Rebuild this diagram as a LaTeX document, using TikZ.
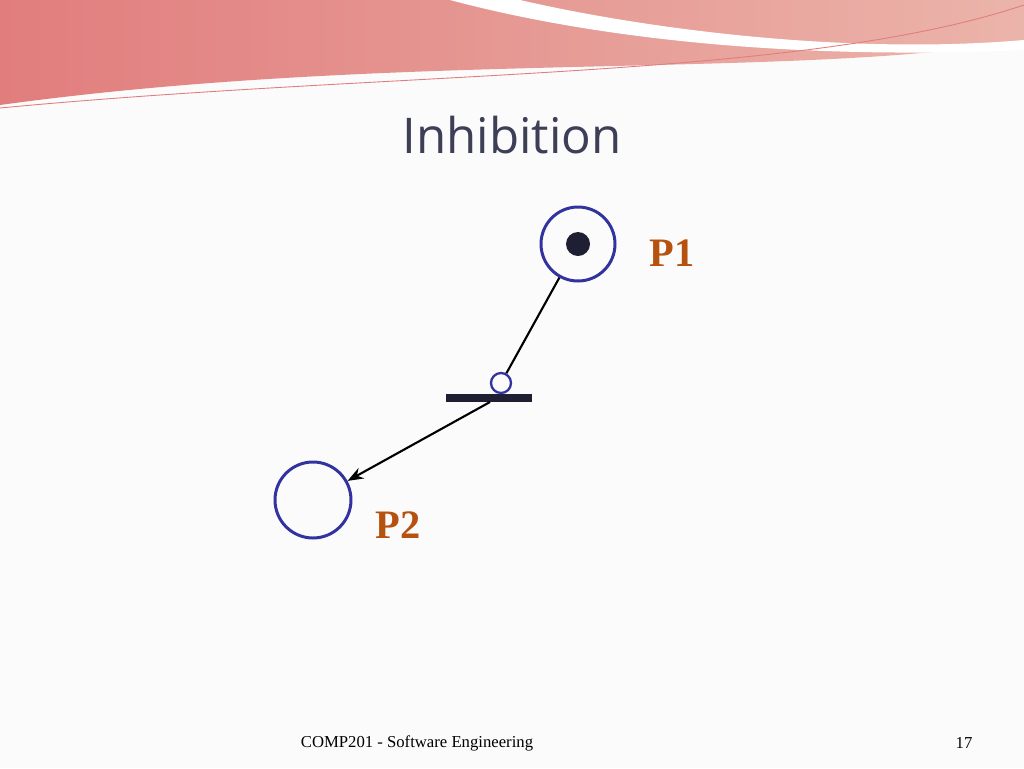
\documentclass[tikz,border=0pt]{standalone}
\usepackage{fontspec}
\newfontfamily\titlefont{Open Sans}
\setmainfont{Liberation Serif}
\usetikzlibrary{arrows.meta,positioning}
\definecolor{placeblue}{RGB}{51,51,160}
\definecolor{labelbrown}{RGB}{181,82,15}
\definecolor{barcol}{RGB}{31,31,51}
\definecolor{titlecol}{RGB}{60,63,85}
\definecolor{bandA}{RGB}{225,125,125}
\definecolor{bandB}{RGB}{235,180,170}
\tikzset{
  place/.style={circle, draw=placeblue, line width=1.7pt, minimum size=#1, inner sep=0pt},
  arc/.style={black, line width=1.2pt},
  plabel/.style={text=labelbrown, font=\fontsize{23}{27}\selectfont\bfseries}
}
\begin{document}
\begin{tikzpicture}[x=0.02cm, y=-0.02cm]
  % BACKGROUND
  \fill[white!97!gray] (0,0) rectangle (1024,768);
  \useasboundingbox (0,0) rectangle (1024,768);

  % HEADER BAND
  \shade[left color=bandA, right color=bandB] (0,0) -- (1024,0) -- (1024,40)
    .. controls (800,80) and (400,50) .. (0,105) -- cycle;
  \fill[white] (450,0) .. controls (600,40) and (800,60) .. (1024,50)
    -- (1024,40) .. controls (850,55) and (650,30) .. (520,0) -- cycle;
  \draw[bandA, line width=0.5pt] (0,108) .. controls (400,70) and (800,80) .. (1024,5);

  % TITLE
  \node[text=titlecol, font=\titlefont\fontsize{28}{32}\selectfont] (title) at (512,135) {Inhibition};

  % PLACES
  \node[place=74*0.02cm] (p1) at (578,244) {};
  \fill[barcol] (p1.center) circle (12);
  \node[place=76*0.02cm] (p2) at (313,500) {};
  \node[plabel] (l1) at (672,253) {P1};
  \node[plabel] (l2) at (398,525) {P2};

  % TRANSITION
  \node[fill=barcol, minimum width=86*0.02cm, minimum height=8*0.02cm, inner sep=0pt] (t) at (489,398) {};
  \node[place=20*0.02cm, line width=1.3pt] (inh) at (501,383) {};
  \coordinate (tout) at (490,402);

  % ARCS
  \draw[arc] (p1) -- (inh);
  \draw[arc, -{Stealth[length=9pt]}] (tout) -- (p2);

  % FOOTER
  \node[font=\fontsize{9.5}{12}\selectfont] (foot) at (417,743) {COMP201 - Software Engineering};
  \node[font=\fontsize{9.5}{12}\selectfont] (page) at (964,743) {17};
\end{tikzpicture}
\end{document}
